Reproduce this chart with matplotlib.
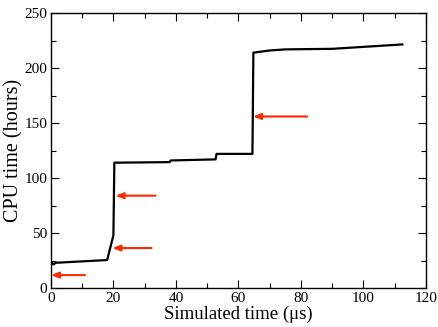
import matplotlib
matplotlib.use("Agg")
import matplotlib.pyplot as plt
from matplotlib.ticker import MultipleLocator

plt.rcParams['font.family'] = ['Liberation Serif', 'DejaVu Serif']

# simulated time (us) vs cumulative CPU time (hours)
sim_time = [0, 0, 0.8, 1.5, 18, 20, 20.3, 38, 38.3, 52.7, 53, 64.5, 64.8,
            70, 75, 90, 112.5]
cpu_time = [20, 24, 21.5, 23, 25.5, 48, 114, 114.5, 116, 117, 122, 122, 214,
            216, 217, 217.5, 221.5]

# arrows: (tail x, tail y, head x)
arrow_tail_x = [10.9, 32.2, 33.5, 82]
arrow_y = [11.8, 36.4, 84, 156]
arrow_head_x = [0, 19.7, 20.7, 64.7]

fig = plt.figure(figsize=(4.39, 3.27), dpi=100)
ax = fig.add_axes([0.116, 0.119, 0.854, 0.841])

ax.plot(sim_time, cpu_time, color='black', lw=1.6)

for tx, y, hx in zip(arrow_tail_x, arrow_y, arrow_head_x):
    ax.annotate('', xy=(hx, y), xytext=(tx, y),
                arrowprops=dict(arrowstyle='-|>,head_length=0.45,head_width=0.18',
                                color='#ff2a00', lw=1.5, shrinkA=0, shrinkB=0))

ax.set_xlim(0, 120)
ax.set_ylim(0, 250)
ax.xaxis.set_major_locator(MultipleLocator(20))
ax.xaxis.set_minor_locator(MultipleLocator(10))
ax.yaxis.set_major_locator(MultipleLocator(50))
ax.yaxis.set_minor_locator(MultipleLocator(25))
ax.tick_params(which='both', direction='in', top=True, right=True, labelsize=11, pad=2.5)
ax.tick_params(which='major', length=6, width=0.8)
ax.tick_params(which='minor', length=3.5, width=0.8)
for s in ax.spines.values():
    s.set_linewidth(1.0)

ax.set_xlabel('Simulated time (μs)', fontsize=13.5, labelpad=1)
ax.set_ylabel('CPU time (hours)', fontsize=14.5, labelpad=0.5)

fig.savefig('out.png', dpi=100)
